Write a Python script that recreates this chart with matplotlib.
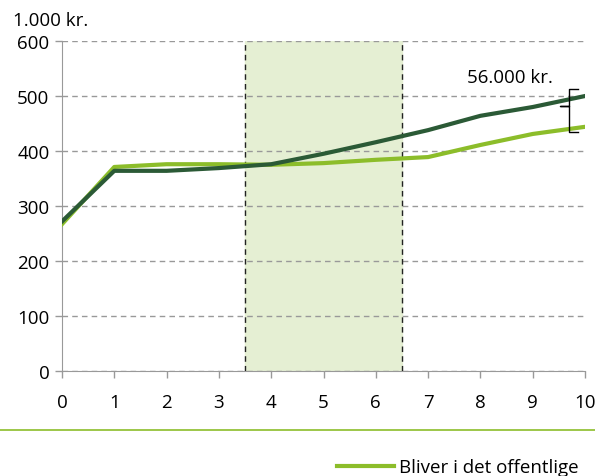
import numpy as np
import matplotlib
matplotlib.use("Agg")
import matplotlib.pyplot as plt
from matplotlib.lines import Line2D

plt.rcParams['font.family'] = ['Open Sans', 'DejaVu Sans']

# data
years = [0, 1, 2, 3, 4, 5, 6, 7, 8, 9, 10]
skifter = [272, 364, 364, 369, 376, 395, 416, 438, 464, 480, 500]
offentlige = [267, 371, 376, 376, 375, 378, 384, 389, 411, 431, 444]
shade_from, shade_to = 3.5, 6.5

dark = '#2b5a36'
light = '#8cbd2a'
fs = 13.5

fig = plt.figure(figsize=(5.95, 4.77), dpi=100)
ax = fig.add_axes([0.1042, 0.2201, 0.8790, 0.6918])

ax.axvspan(shade_from, shade_to, color='#e5efd3', zorder=0)
for xv in (shade_from, shade_to):
    ax.axvline(xv, color='#222222', linestyle=(0, (4, 3)), linewidth=1, zorder=1)

ax.plot(years, offentlige, color=light, linewidth=3, zorder=3)
ax.plot(years, skifter, color=dark, linewidth=3, zorder=4)

ax.set_xlim(0, 10)
ax.set_ylim(0, 600)
ax.set_xticks(years)
ax.set_yticks(np.arange(0, 601, 100))
ax.yaxis.grid(True, color='#999999', linestyle=(0, (4, 3)), linewidth=1)
ax.set_axisbelow(True)
ax.tick_params(labelsize=fs, color='#999999', length=5, width=1)
ax.tick_params(axis='x', pad=10.5)
ax.tick_params(axis='y', pad=4)
for s in ('top', 'right'):
    ax.spines[s].set_visible(False)
for s in ('left', 'bottom'):
    ax.spines[s].set_color('#999999')
ax.spines['bottom'].set_zorder(0)

fig.text(0.022, 0.957, '1.000 kr.', fontsize=fs, va='center', ha='left')

# brace between end values
y0, y1 = offentlige[-1], skifter[-1]
ym = y0 + (y1 - y0) * 0.68
bx = 9.69
bx_r, bx_l = 9.87, 9.52
brace_x = [bx_r, bx, bx, bx_l, bx, bx, bx_r]
brace_y = [y1 + 13, y1 + 13, ym, ym, ym, y0 - 10, y0 - 10]
ax.plot(brace_x, brace_y, color='black', linewidth=1, clip_on=False, zorder=5)
ax.text(8.57, 535, '56.000 kr.', fontsize=fs, ha='center', va='center')

# separator line and legend
fig.add_artist(Line2D([0, 1], [0.0965, 0.0965], color=light, linewidth=1.2,
                      transform=fig.transFigure))
handle = Line2D([], [], color=light, linewidth=3)
fig.legend([handle], ['Bliver i det offentlige'], loc='center left',
           bbox_to_anchor=(0.567, 0.0185), frameon=False, fontsize=fs,
           handlelength=3.0, handletextpad=0.28, borderaxespad=0,
           borderpad=0)

fig.savefig('out.png', dpi=100)
